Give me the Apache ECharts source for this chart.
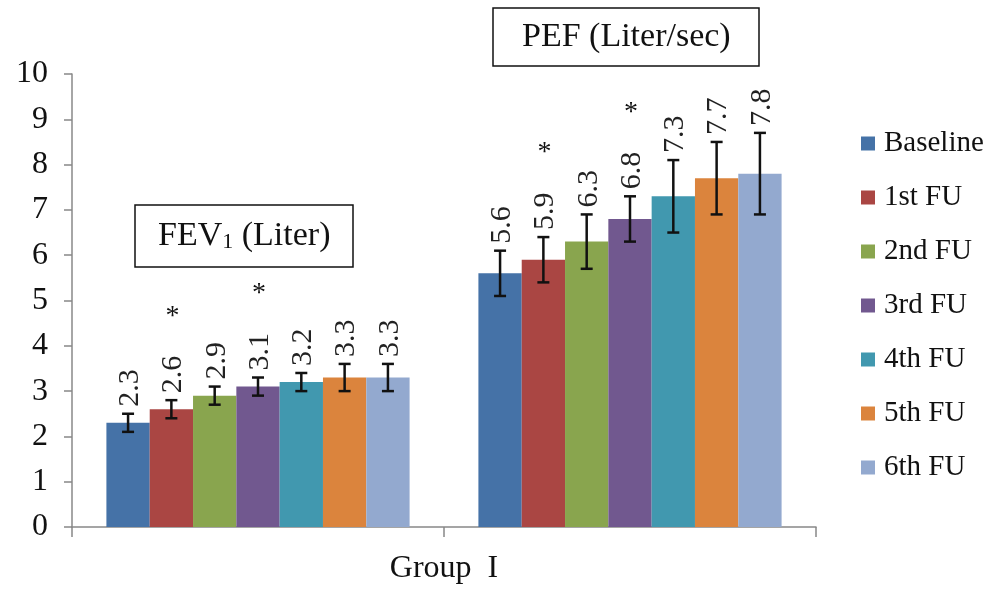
<!DOCTYPE html>
<html>
<head>
<meta charset="utf-8">
<title>Group I - FEV1 and PEF</title>
<script src="https://cdn.jsdelivr.net/npm/echarts@6/dist/echarts.min.js"></script>
<style>
html, body { margin: 0; padding: 0; background: #fff; }
#chart { width: 1005px; height: 590px; }
</style>
</head>
<body>
<div id="chart"></div>
<script>
// values
const categories = ['FEV1', 'PEF']
const visits = ['Baseline', '1st FU', '2nd FU', '3rd FU', '4th FU', '5th FU', '6th FU']
const fevMean = [2.3, 2.6, 2.9, 3.1, 3.2, 3.3, 3.3]
const fevErr = [0.2, 0.2, 0.2, 0.2, 0.2, 0.3, 0.3]
const pefMean = [5.6, 5.9, 6.3, 6.8, 7.3, 7.7, 7.8]
const pefErr = [0.5, 0.5, 0.6, 0.5, 0.8, 0.8, 0.9]
// 1 = marked with *
const fevSig = [0, 1, 0, 1, 0, 0, 0]
const pefSig = [0, 1, 0, 1, 0, 0, 0]
const yTicks = [0, 10, 1]

const colors = ['#4572a7', '#aa4643', '#89a54e', '#71588f', '#4198af', '#db843d', '#93a9cf']
const serif = '"Liberation Serif", "Times New Roman", serif'
const gapRatio = 0.185

const chart = echarts.init(document.getElementById('chart'))

const series = []
visits.forEach(function(name, i) {
  series.push({
    name: name,
    type: 'bar',
    barGap: '0%',
    barCategoryGap: (gapRatio * 100) + '%',
    itemStyle: { color: colors[i] },
    data: [fevMean[i], pefMean[i]]
  })
})
// error bars, value labels and * marks, lined up with the bars of each visit
visits.forEach(function(name, i) {
  series.push({
    name: name,
    type: 'custom',
    z: 5,
    encode: { x: 0, y: 1 },
    data: [
      [0, fevMean[i], fevErr[i], fevSig[i]],
      [1, pefMean[i], pefErr[i], pefSig[i]]
    ],
    renderItem: function(params, api) {
      const cat = api.value(0)
      const mean = api.value(1)
      const err = api.value(2)
      const sig = api.value(3)
      const band = api.size([1, 0])[0]
      const bw = band * (1 - gapRatio) / visits.length
      const x = api.coord([cat, mean])[0] + (i - (visits.length - 1) / 2) * bw
      const yHi = api.coord([cat, mean + err])[1]
      const yLo = api.coord([cat, mean - err])[1]
      const cap = 6
      const lineStyle = { stroke: '#111', lineWidth: 2.5 }
      const children = [
        { type: 'line', shape: { x1: x, y1: yHi, x2: x, y2: yLo }, style: lineStyle },
        { type: 'line', shape: { x1: x - cap, y1: yHi, x2: x + cap, y2: yHi }, style: lineStyle },
        { type: 'line', shape: { x1: x - cap, y1: yLo, x2: x + cap, y2: yLo }, style: lineStyle },
        {
          type: 'text',
          x: x + 2,
          y: yHi - 7,
          rotation: Math.PI / 2,
          style: {
            text: mean.toFixed(1),
            font: '30px ' + serif,
            fill: '#222',
            align: 'left',
            verticalAlign: 'middle'
          }
        }
      ]
      if (sig) {
        children.push({
          type: 'text',
          x: x + 1,
          y: yHi - 84,
          style: {
            text: '*',
            font: '28px ' + serif,
            fill: '#111',
            align: 'center',
            verticalAlign: 'middle'
          }
        })
      }
      return { type: 'group', children: children }
    }
  })
})

chart.setOption({
  animation: false,
  color: colors,
  title: [{
    text: 'PEF (Liter/sec)',
    left: 493,
    top: 8,
    padding: [12, 29],
    borderColor: '#111',
    borderWidth: 1.5,
    textStyle: { fontFamily: serif, fontSize: 34, fontWeight: 'normal', color: '#111' }
  }, {
    text: '{n|FEV}{s|1}{n| (Liter)}',
    left: 135,
    top: 205,
    padding: [14, 23],
    borderColor: '#111',
    borderWidth: 1.5,
    textStyle: {
      fontFamily: serif,
      fontSize: 34,
      fontWeight: 'normal',
      color: '#111',
      rich: {
        n: { fontFamily: serif, fontSize: 34, color: '#111' },
        s: { fontFamily: serif, fontSize: 22, color: '#111', verticalAlign: 'bottom' }
      }
    }
  }],
  legend: {
    orient: 'vertical',
    left: 856,
    top: 124,
    itemWidth: 14,
    itemHeight: 14,
    itemGap: 25,
    icon: 'rect',
    data: visits,
    textStyle: { fontFamily: serif, fontSize: 29, lineHeight: 29, color: '#111', padding: [0, 0, 0, 4] }
  },
  grid: {
    left: 72,
    right: 189,
    top: 74,
    bottom: 60
  },
  xAxis: {
    type: 'category',
    data: categories,
    name: 'Group  I',
    nameLocation: 'middle',
    nameGap: 26,
    nameTextStyle: { fontFamily: serif, fontSize: 32, color: '#111' },
    axisLine: { lineStyle: { color: '#888', width: 1.5 } },
    axisTick: { show: true, length: 10, lineStyle: { color: '#888', width: 1.5 } },
    axisLabel: { show: false }
  },
  yAxis: {
    type: 'value',
    min: yTicks[0],
    max: yTicks[1],
    interval: yTicks[2],
    axisLine: { show: true, lineStyle: { color: '#888', width: 1.5 } },
    axisTick: { show: true, length: 8, lineStyle: { color: '#888', width: 1.5 } },
    splitLine: { show: false },
    axisLabel: { fontFamily: serif, fontSize: 32, color: '#111', margin: 24 }
  },
  series: series
})
</script>
</body>
</html>
